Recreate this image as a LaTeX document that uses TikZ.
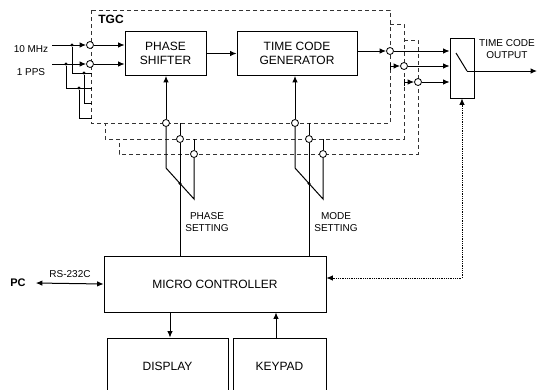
\documentclass[tikz,border=0pt]{standalone}
\usepackage{fontspec}
\setmainfont{Liberation Sans}
\usetikzlibrary{arrows.meta,calc}
\tikzset{
  >={Latex[length=6.5pt,width=5.5pt]},
  box/.style={draw, line width=0.8pt, font=\fontsize{12}{14}\selectfont,
              align=center, inner sep=0pt},
  unitFrame/.style={draw=black!80, dash pattern=on 4pt off 3pt, line width=0.6pt},
  ring/.style={circle, draw, line width=0.8pt, fill=white, minimum size=7pt, inner sep=0pt},
  jdot/.style={circle, fill, minimum size=3.2pt, inner sep=0pt},
  sig/.style={line width=1pt},
  arr/.style={sig, ->},
  lbl/.style={font=\fontsize{10}{11.5}\selectfont, align=center, inner sep=1pt},
}

\begin{document}
\begin{tikzpicture}[x=1pt, y=-1pt]
\useasboundingbox (0,0) rectangle (540,389);

% ========== TGC UNITS ==========
\draw[unitFrame] (91,10) rectangle (390,123);
\draw[unitFrame] (390,24) -- (404,24) -- (404,139) -- (105,139) -- (105,123);
\draw[unitFrame] (404,40) -- (418,40) -- (418,154) -- (119,154) -- (119,139);
\node[font=\bfseries\fontsize{12}{14}\selectfont, inner sep=0pt] (tgc) at (111,19) {TGC};

% blocks
\node[box, minimum width=81pt, minimum height=44pt] (ps) at (165.5,53.5) {PHASE\\SHIFTER};
\node[box, minimum width=120pt, minimum height=44pt] (gen) at (297,53.5) {TIME CODE\\GENERATOR};
\node[box, minimum width=24pt, minimum height=60pt] (sw) at (462,68) {};

% ========== INPUTS ==========
\node[lbl] (l10) at (31,49) {10 MHz};
\node[lbl] (l1p) at (31,72) {1 PPS};
\coordinate (s10) at (52,45);
\coordinate (s1p) at (52,64);
\node[ring] (in1) at (90,45) {};
\node[ring] (in2) at (90,64) {};
\node[jdot] (j1) at (72,45) {};
\node[jdot] (j2) at (66,64) {};
\node[jdot] (j3) at (84,73) {};
\node[jdot] (j4) at (79,88) {};
\coordinate (b1) at (92,73);
\coordinate (b2) at (92,103);
\coordinate (b3) at (92,88);
\coordinate (b4) at (92,118);
\draw[arr] (s10) -- (in1);
\draw[arr] (s1p) -- (in2);
\draw[sig] (j1) |- (b1);
\draw[sig] (j3) |- (b2);
\draw[sig] (j2) |- (b3);
\draw[sig] (j4) |- (b4);
\draw[arr] (in1) -- (in1 -| ps.west);
\draw[arr] (in2) -- (in2 -| ps.west);

% ========== OUTPUT SIDE ==========
\draw[arr] (ps.east) -- (gen.west);
\node[ring] (out1) at (390,51) {};
\node[ring] (out2) at (404,66) {};
\node[ring] (out3) at (418,82) {};
\coordinate (t2) at (390,66);
\coordinate (t3) at (404,82);
\draw[arr] (gen.east |- out1) -- (out1);
\draw[sig, |->] (t2) -- (out2);
\draw[sig, |->] (t3) -- (out3);
\foreach \o in {out1,out2,out3}
  \draw[arr] (\o) -- (\o -| sw.west);
\coordinate (swA) at (456,53);
\coordinate (swB) at (467,71);
\coordinate (tco) at (537,71);
\draw[sig] (swA) -- (swB);
\draw[arr] (swB) -- (tco);
\node[lbl] (lout) at (507,49) {TIME CODE\\OUTPUT};

% ========== SETTINGS ==========
\node[box, minimum width=222pt, minimum height=56pt] (mc) at (215,284) {MICRO CONTROLLER};
\foreach \n/\x/\tgt in {p/166/ps, m/295/gen} {
  \node[ring] (\n1) at (\x,123) {};
  \node[ring] (\n2) at (\x+14,139) {};
  \node[ring] (\n3) at (\x+28,154) {};
  \draw[arr] (\n1) -- (\n1 |- \tgt.south);
  \draw[sig] (\x+14,123) -- (\n2);
  \draw[sig] (\x+28,139) -- (\n3);
  \draw[sig] (\n1) -- (\x,168) -- (\x+28,199) -- (\n3);
  \draw[sig] (\n2) -- (\n2 |- mc.north);
  \node[jdot] (\n d) at (\x+14,183.5) {};
}
\node[lbl] (lph) at (207,222) {PHASE\\SETTING};
\node[lbl] (lmd) at (336,222) {MODE\\SETTING};

% ========== CONTROLLER ==========
\node[box, minimum width=121pt, minimum height=56pt] (disp) at (167.5,366) {DISPLAY};
\node[box, minimum width=93pt, minimum height=56pt] (key) at (279.5,366) {KEYPAD};
\node[font=\bfseries\fontsize{11}{13}\selectfont, inner sep=0pt] (pc) at (18,283) {PC};
\node[lbl] (rs) at (70,274) {RS-232C};
\draw[sig, <->] ([xshift=10pt]pc.east) -- (mc.west);
\draw[arr] ([xshift=2.5pt]disp.north |- mc.south) -- ([xshift=2.5pt]disp.north);
\draw[arr] ([xshift=-3.5pt]key.north) -- ([xshift=-3.5pt]key.north |- mc.south);
\draw[line width=0.8pt, densely dotted, <->] ([yshift=6pt]mc.east) -| (sw.south);

\end{tikzpicture}
\end{document}
